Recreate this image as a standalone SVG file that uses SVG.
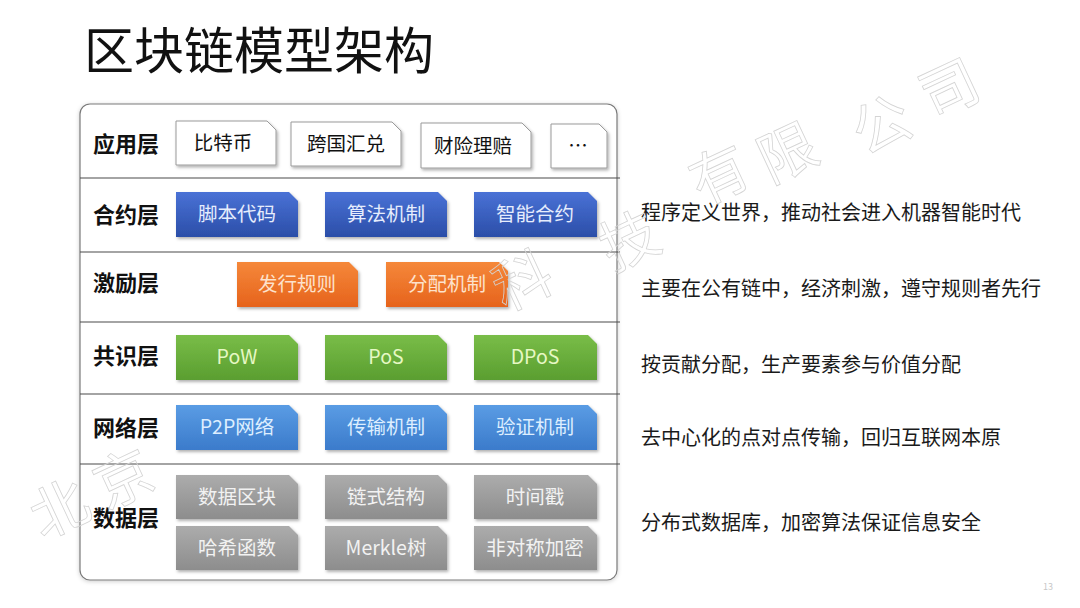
<svg xmlns="http://www.w3.org/2000/svg" width="1080" height="608" viewBox="0 0 1080 608">
<defs>
<style>
.t{font-family:"Noto Sans CJK SC","Liberation Sans",sans-serif}
.title{font-size:50px;fill:#111}
.lab{font-size:22px;font-weight:700;fill:#111}
.bt{font-size:19.5px;text-anchor:middle}
.desc{font-size:20px;fill:#1a1a1a}
.wm{font-size:58px;fill:none;stroke:#d4d4d4;stroke-width:0.8}
.sep{stroke:#4a4a4a;stroke-width:1.2}
</style>
<linearGradient id="gBlue" x1="0" y1="0" x2="0" y2="1"><stop offset="0" stop-color="#4a72d6"/><stop offset="1" stop-color="#2b4ea8"/></linearGradient>
<linearGradient id="gOrange" x1="0" y1="0" x2="0" y2="1"><stop offset="0" stop-color="#f5883a"/><stop offset="1" stop-color="#e6631c"/></linearGradient>
<linearGradient id="gGreen" x1="0" y1="0" x2="0" y2="1"><stop offset="0" stop-color="#79bd48"/><stop offset="1" stop-color="#5a9e30"/></linearGradient>
<linearGradient id="gNet" x1="0" y1="0" x2="0" y2="1"><stop offset="0" stop-color="#5a9ce4"/><stop offset="1" stop-color="#3b7bcb"/></linearGradient>
<linearGradient id="gGray" x1="0" y1="0" x2="0" y2="1"><stop offset="0" stop-color="#acacac"/><stop offset="1" stop-color="#8d8d8d"/></linearGradient>
<filter id="sh" x="-10%" y="-10%" width="125%" height="135%"><feDropShadow dx="1.5" dy="2" stdDeviation="1.5" flood-color="#000" flood-opacity="0.3"/></filter>
<filter id="csh" x="-5%" y="-5%" width="110%" height="110%"><feDropShadow dx="0" dy="1" stdDeviation="2" flood-color="#000" flood-opacity="0.2"/></filter>
</defs>
<rect width="1080" height="608" fill="#ffffff"/>

<text class="t title" x="84" y="69">区块链模型架构</text>

<g id="container">
<rect x="80" y="104" width="537" height="476" rx="10" fill="#fff" stroke="#7a7a7a" stroke-width="1.2" filter="url(#csh)"/>
</g>

<g id="separators">
<line class="sep" x1="80" y1="178" x2="620" y2="178"/>
<line class="sep" x1="80" y1="252" x2="620" y2="252"/>
<line class="sep" x1="80" y1="322" x2="620" y2="322"/>
<line class="sep" x1="80" y1="394" x2="620" y2="394"/>
<line class="sep" x1="80" y1="464" x2="620" y2="464"/>
</g>

<g id="labels">
<text class="t lab" x="93" y="152">应用层</text>
<text class="t lab" x="93" y="223">合约层</text>
<text class="t lab" x="93" y="291">激励层</text>
<text class="t lab" x="93" y="364">共识层</text>
<text class="t lab" x="93" y="436">网络层</text>
<text class="t lab" x="93" y="526">数据层</text>
</g>

<g id="app-layer">
<g id="app-btc"><path d="M176,121 H267 L276,130 V165 H176 Z" fill="#fff" stroke="#9a9a9a" filter="url(#sh)"/><text class="t bt" x="223" y="150" fill="#111">比特币</text></g>
<g id="app-remit"><path d="M291,122 H392 L401,131 V166 H291 Z" fill="#fff" stroke="#9a9a9a" filter="url(#sh)"/><text class="t bt" x="346" y="151" fill="#111">跨国汇兑</text></g>
<g id="app-ins"><path d="M421,123 H522 L531,132 V168 H421 Z" fill="#fff" stroke="#9a9a9a" filter="url(#sh)"/><text class="t bt" x="473" y="153" fill="#111">财险理赔</text></g>
<g id="app-more"><path d="M551,124 H599 L607,132 V168 H551 Z" fill="#fff" stroke="#9a9a9a" filter="url(#sh)"/><text class="t bt" x="578" y="153" fill="#111">…</text></g>
</g>

<g id="contract-layer">
<g id="c-script"><path d="M176,192 H289 L298,201 V237 H176 Z" fill="url(#gBlue)" filter="url(#sh)"/><text class="t bt" x="237" y="221" fill="#e6edfd">脚本代码</text></g>
<g id="c-algo"><path d="M325,192 H438 L447,201 V237 H325 Z" fill="url(#gBlue)" filter="url(#sh)"/><text class="t bt" x="386" y="221" fill="#e6edfd">算法机制</text></g>
<g id="c-smart"><path d="M474,192 H588 L597,201 V237 H474 Z" fill="url(#gBlue)" filter="url(#sh)"/><text class="t bt" x="535" y="221" fill="#e6edfd">智能合约</text></g>
</g>

<g id="incentive-layer">
<g id="i-issue"><path d="M237,262 H349 L358,271 V307 H237 Z" fill="url(#gOrange)" filter="url(#sh)"/><text class="t bt" x="297" y="291" fill="#fde2cc">发行规则</text></g>
<g id="i-dist"><path d="M386,262 H499 L508,271 V307 H386 Z" fill="url(#gOrange)" filter="url(#sh)"/><text class="t bt" x="447" y="291" fill="#fde2cc">分配机制</text></g>
</g>

<g id="consensus-layer">
<g id="s-pow"><path d="M176,335 H289 L298,344 V380 H176 Z" fill="url(#gGreen)" filter="url(#sh)"/><text class="t bt" x="237" y="364" fill="#e6f8c4">PoW</text></g>
<g id="s-pos"><path d="M325,335 H438 L447,344 V380 H325 Z" fill="url(#gGreen)" filter="url(#sh)"/><text class="t bt" x="386" y="364" fill="#e6f8c4">PoS</text></g>
<g id="s-dpos"><path d="M474,335 H588 L597,344 V380 H474 Z" fill="url(#gGreen)" filter="url(#sh)"/><text class="t bt" x="535" y="364" fill="#e6f8c4">DPoS</text></g>
</g>

<g id="network-layer">
<g id="n-p2p"><path d="M176,405 H289 L298,414 V450 H176 Z" fill="url(#gNet)" filter="url(#sh)"/><text class="t bt" x="237" y="434" fill="#ddeeff">P2P网络</text></g>
<g id="n-trans"><path d="M325,405 H438 L447,414 V450 H325 Z" fill="url(#gNet)" filter="url(#sh)"/><text class="t bt" x="386" y="434" fill="#ddeeff">传输机制</text></g>
<g id="n-verify"><path d="M474,405 H588 L597,414 V450 H474 Z" fill="url(#gNet)" filter="url(#sh)"/><text class="t bt" x="535" y="434" fill="#ddeeff">验证机制</text></g>
</g>

<g id="data-layer">
<g id="d-block"><path d="M176,475 H289 L298,484 V519 H176 Z" fill="url(#gGray)" filter="url(#sh)"/><text class="t bt" x="237" y="504" fill="#f2f2f2">数据区块</text></g>
<g id="d-chain"><path d="M325,475 H438 L447,484 V519 H325 Z" fill="url(#gGray)" filter="url(#sh)"/><text class="t bt" x="386" y="504" fill="#f2f2f2">链式结构</text></g>
<g id="d-time"><path d="M474,475 H588 L597,484 V519 H474 Z" fill="url(#gGray)" filter="url(#sh)"/><text class="t bt" x="535" y="504" fill="#f2f2f2">时间戳</text></g>
<g id="d-hash"><path d="M176,526 H289 L298,535 V570 H176 Z" fill="url(#gGray)" filter="url(#sh)"/><text class="t bt" x="237" y="555" fill="#f2f2f2">哈希函数</text></g>
<g id="d-merkle"><path d="M325,526 H438 L447,535 V570 H325 Z" fill="url(#gGray)" filter="url(#sh)"/><text class="t bt" x="386" y="555" fill="#f2f2f2">Merkle树</text></g>
<g id="d-asym"><path d="M474,526 H588 L597,535 V570 H474 Z" fill="url(#gGray)" filter="url(#sh)"/><text class="t bt" x="535" y="555" fill="#f2f2f2">非对称加密</text></g>
</g>

<g id="descriptions">
<text class="t desc" x="641" y="220">程序定义世界，推动社会进入机器智能时代</text>
<text class="t desc" x="641" y="296">主要在公有链中，经济刺激，遵守规则者先行</text>
<text class="t desc" x="641" y="372">按贡献分配，生产要素参与价值分配</text>
<text class="t desc" x="641" y="445">去中心化的点对点传输，回归互联网本原</text>
<text class="t desc" x="641" y="530">分布式数据库，加密算法保证信息安全</text>
</g>

<g id="watermark">
<text class="t wm" transform="translate(42,540) rotate(-25)">北</text>
<text class="t wm" transform="translate(106,510) rotate(-25)">京</text>
<text class="t wm" transform="translate(505,312) rotate(-25)">科</text>
<text class="t wm" transform="translate(612,272) rotate(-25)">技</text>
<text class="t wm" transform="translate(702,206) rotate(-25)">有</text>
<text class="t wm" transform="translate(770,184) rotate(-25)">限</text>
<text class="t wm" transform="translate(864,156) rotate(-25)">公</text>
<text class="t wm" transform="translate(932,120) rotate(-25)">司</text>
</g>

<text class="t" x="1043" y="590" font-size="9" fill="#c8c8c8">13</text>
</svg>
